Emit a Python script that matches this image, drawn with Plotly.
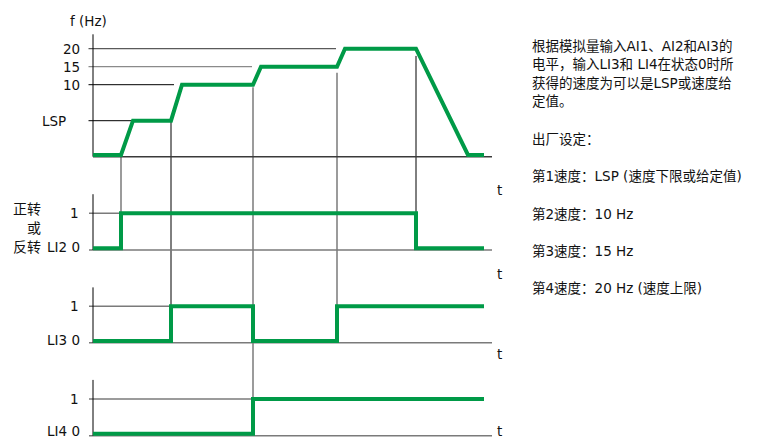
import plotly.graph_objects as go

W, H = 769, 441

# frequency profile, time in schematic units, level on the schematic f scale
f_time = [0, 2.8, 4.0, 7.8, 8.9, 16.0, 16.8, 24.4, 25.2, 32.3, 37.5, 39.1]
f_level = [0, 0, 1, 1, 2, 2, 2.5, 2.5, 3, 3, 0, 0]
f_ticktext = ["LSP", "10", "15", "20"]
f_tickval = [1, 2, 2.5, 3]
f_guide_end = [7.8, 8.1, 15.9, 24.3]

# logic inputs (0/1 states, step after each time)
li2_time = [0, 2.8, 32.3, 39.1]
li2_state = [0, 1, 0, 0]
li3_time = [0, 7.8, 16.0, 24.4, 39.1]
li3_state = [0, 1, 0, 1, 1]
li4_time = [0, 16.0, 39.1]
li4_state = [0, 1, 1]

t_end = 39.9

# vertical connectors from the f curve down to the input that switches
conn_time = [2.8, 7.8, 16.0, 24.4, 32.3]
conn_from = [0, 1, 1.93, 2.33, 2.8]
conn_to = ["li2", "li3", "li4", "li3", "li2"]

note_lines = [
    "根据模拟量输入AI1、AI2和AI3的",
    "电平，输入LI3和 LI4在状态0时所",
    "获得的速度为可以是LSP或速度给",
    "定值。",
    "出厂设定：",
    "第1速度：LSP (速度下限或给定值)",
    "第2速度：10 Hz",
    "第3速度：15 Hz",
    "第4速度：20 Hz (速度上限)",
]

GREEN = "#009A47"
FONT = "DejaVu Sans, Noto Sans CJK SC"

# layout geometry (pixels)
X0_PX, PPT = 93, 10.0
X_RANGE = [-0.6, 40.0]
panels = {
    "f": dict(axis="y", zero_px=156.7, ppu=36.0, r=(-0.2, 3.45), top=3.4),
    "li2": dict(axis="y2", zero_px=250.0, ppu=36.7, r=(-0.1, 1.56), top=1.52),
    "li3": dict(axis="y3", zero_px=342.7, ppu=36.4, r=(-0.1, 1.56), top=1.52),
    "li4": dict(axis="y4", zero_px=435.7, ppu=36.7, r=(-0.1, 1.56), top=1.52),
}


def domain(p):
    bottom = p["zero_px"] - p["r"][0] * p["ppu"]
    top = p["zero_px"] - p["r"][1] * p["ppu"]
    return [max(0, 1 - bottom / H), min(1, 1 - top / H)]


def paper_y(name, v):
    p = panels[name]
    return 1 - (p["zero_px"] - v * p["ppu"]) / H


def py(px):
    return 1 - px / H


def line(fig, x, y, axis, color, width, shape="linear"):
    fig.add_trace(go.Scatter(x=x, y=y, yaxis=axis, mode="lines", hoverinfo="skip",
                             line=dict(color=color, width=width, shape=shape)))


fig = go.Figure()

# --- frequency panel
ax = panels["f"]["axis"]
line(fig, [0, t_end], [0, 0], ax, "#3a3a3a", 1.5)
guide_colors = ["#000000", "#000000", "#8a8a8a", "#5a5a5a"]
for lv, te, c in zip(f_tickval, f_guide_end, guide_colors):
    line(fig, [-0.45, te], [lv, lv], ax, c, 1.3 if c != "#000000" else 1)
line(fig, [0, 0], [0, panels["f"]["top"]], ax, "#000000", 1)
lift = 0.05
line(fig, f_time, [v if v > 0 else lift for v in f_level], ax, GREEN, 4)

# --- logic input panels
for name, t, s in [("li2", li2_time, li2_state), ("li3", li3_time, li3_state),
                   ("li4", li4_time, li4_state)]:
    ax = panels[name]["axis"]
    first_rise = t[s.index(1)]
    line(fig, [-0.4, t_end], [0, 0], ax, "#7a7a7a", 1.5)
    line(fig, [-0.4, first_rise], [1, 1], ax, "#7a7a7a", 1.5)
    line(fig, [0, 0], [0, panels[name]["top"]], ax, "#000000", 1)
    line(fig, t, [v if v > 0 else lift for v in s], ax, GREEN, 4, shape="hv")

shapes = []
for tc, lv, dst in zip(conn_time, conn_from, conn_to):
    black = tc in (7.8, 32.3)
    shapes.append(dict(type="line", xref="x", yref="paper", x0=tc, x1=tc,
                       y0=paper_y("f", lv), y1=paper_y(dst, 0), layer="below",
                       line=dict(color="#000000" if black else "#7a7a7a",
                                 width=1 if black else 1.5)))

ann = []


def label(text, x_px, y, yref="paper", xanchor="right", yanchor="middle", size=14):
    ann.append(dict(text=text, x=x_px / W, xref="paper", y=y, yref=yref,
                    xanchor=xanchor, yanchor=yanchor, showarrow=False,
                    font=dict(family=FONT, size=size, color="#111111")))


label("f (Hz)", 88.5, py(20.7), xanchor="center", size=13.5)
for txt, lv in zip(f_ticktext, f_tickval):
    label(txt, 82 if txt != "LSP" else 68, lv, yref="y", size=13.5)
label("正转", 43, py(209.3))
label("或", 43, py(228.3))
label("反转", 43, py(247))
label("1", 81, 1, yref="y2", size=13.5)
label("LI2 0", 82, 0.09, yref="y2", size=13.5)
label("1", 81, 1, yref="y3", size=13.5)
label("LI3 0", 82, 0.07, yref="y3", size=13.5)
label("1", 81, 1, yref="y4", size=13.5)
label("LI4 0", 82, 0, yref="paper", yanchor="bottom", size=13.5)
for ypx in [190, 274, 354]:
    label("t", 499, py(ypx), xanchor="center", size=13.5)
label("t", 499, 0, xanchor="center", yanchor="bottom", size=13.5)

note_y_px = [46, 64, 83, 101, 139, 176, 214, 251, 288]
for txt, ypx in zip(note_lines, note_y_px):
    label(txt, 530, py(ypx), xanchor="left", size=13.5)

hidden = dict(showline=False, showgrid=False, zeroline=False, showticklabels=False,
              ticks="", fixedrange=True)
layout_axes = dict(
    xaxis=dict(domain=[(X0_PX + X_RANGE[0] * PPT) / W, (X0_PX + X_RANGE[1] * PPT) / W],
               range=X_RANGE, anchor="y", **hidden),
)
for name, p in panels.items():
    key = "yaxis" if p["axis"] == "y" else "yaxis" + p["axis"][1:]
    layout_axes[key] = dict(domain=domain(p), range=list(p["r"]), anchor="x", **hidden)

fig.update_layout(
    width=W, height=H,
    margin=dict(l=0, r=0, t=0, b=0),
    paper_bgcolor="white",
    plot_bgcolor="rgba(0,0,0,0)",
    showlegend=False,
    shapes=shapes,
    annotations=ann,
    **layout_axes,
)

fig.write_html("out.html", config={"displayModeBar": False},
               post_script="document.body.style.margin='0px';")
